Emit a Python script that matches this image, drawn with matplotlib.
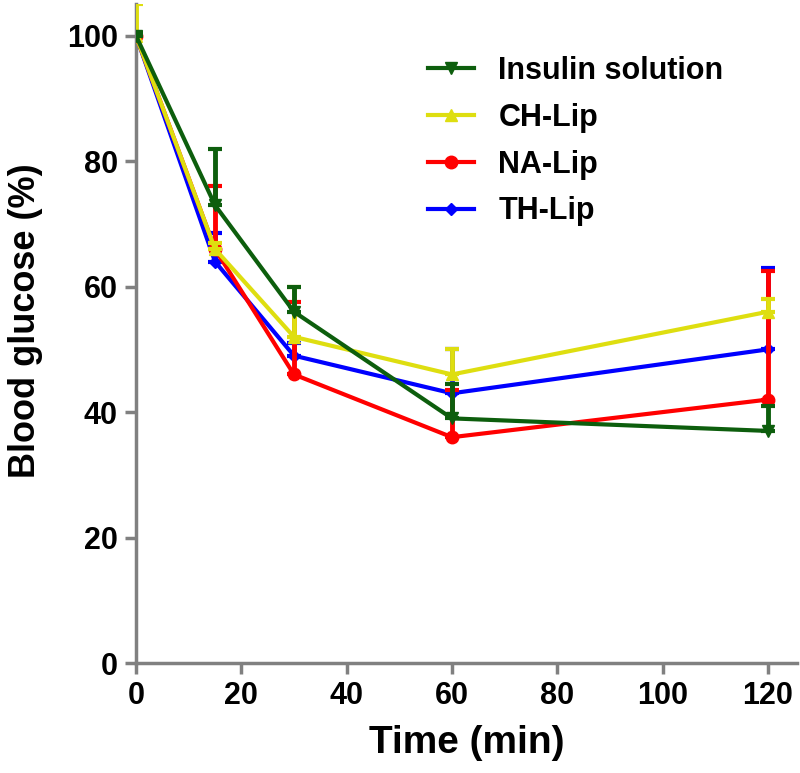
import numpy as np
import matplotlib
matplotlib.use('Agg')
import matplotlib.pyplot as plt
from matplotlib.lines import Line2D

plt.rcParams['font.family'] = ['Liberation Sans', 'DejaVu Sans']
plt.rcParams['font.weight'] = 'bold'

time = [0, 15, 30, 60, 120]

# mean values (%) and upper error (SD)
insulin = [100, 73, 56, 39, 37]
insulin_sd = [0.5, 9, 4, 5.5, 4]
ch_lip = [100, 66, 52, 46, 56]
ch_lip_sd = [5, 1, 8, 4, 2]
na_lip = [100, 66, 46, 36, 42]
na_lip_sd = [0.5, 10, 11.5, 7.5, 20.5]
th_lip = [100, 64, 49, 43, 50]
th_lip_sd = [0.5, 4.5, 2, 7, 13]

labels = ['Insulin solution', 'CH-Lip', 'NA-Lip', 'TH-Lip']
colors = ['#0d5e0d', '#dede10', '#ff0000', '#0000ff']
markers = ['v', '^', 'o', 'D']
msizes = [9, 9, 9, 6]
zorders = [5, 4, 3, 2]

fig = plt.figure(figsize=(8, 7.73), dpi=100)
ax = fig.add_axes([0.17, 0.1423, 0.826, 0.852])

series = [(insulin, insulin_sd), (ch_lip, ch_lip_sd), (na_lip, na_lip_sd), (th_lip, th_lip_sd)]
handles = []
for (y, sd), lab, c, m, ms, z in zip(series, labels, colors, markers, msizes, zorders):
    err = [np.zeros(len(sd)), sd]
    ax.errorbar(time, y, yerr=err, color=c, marker=m, markersize=ms, lw=3,
                elinewidth=3.5, capsize=5, capthick=3, zorder=z)
    handles.append(Line2D([], [], color=c, marker=m, markersize=ms, lw=3))

ax.set_xlim(0, 125.5)
ax.set_ylim(0, 105)
ax.set_xticks(np.arange(0, 121, 20))
ax.set_yticks(np.arange(0, 101, 20))
ax.spines['top'].set_visible(False)
ax.spines['right'].set_visible(False)
for s in ['left', 'bottom']:
    ax.spines[s].set_color('#808080')
    ax.spines[s].set_linewidth(2.5)
ax.tick_params(colors='#808080', width=2.5, length=8, labelcolor='black', labelsize=22, pad=5)
for t in ax.get_xticklabels() + ax.get_yticklabels():
    t.set_fontweight('bold')
ax.set_xlabel('Time (min)', fontsize=28, fontweight='bold', labelpad=10)
ax.set_ylabel('Blood glucose (%)', fontsize=26, fontweight='bold')
ax.yaxis.set_label_coords(-0.14, 0.52)

leg = fig.legend(handles=handles, labels=labels, loc='upper left',
                 bbox_to_anchor=(428 / 800, 1 - 56 / 773), borderaxespad=0, borderpad=0,
                 frameon=False, fontsize=22, handlelength=1.5, labelspacing=0.55,
                 handletextpad=0.8)
for t in leg.get_texts():
    t.set_fontweight('bold')

fig.savefig('out.png', dpi=100)
